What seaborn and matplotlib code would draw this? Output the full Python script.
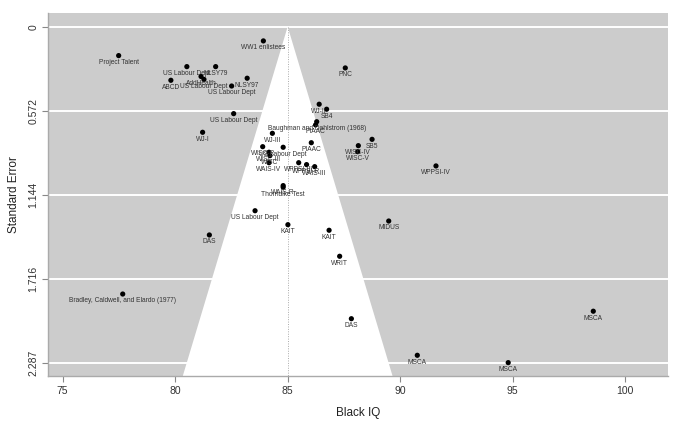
import numpy as np
import pandas as pd
import matplotlib
matplotlib.use("Agg")
import matplotlib.pyplot as plt
import seaborn as sns

studies = [
    "WW1 enlistees", "Project Talent", "US Labour Dept", "NLSY79", "AddHealth",
    "US Labour Dept", "ABCD", "NLSY97", "US Labour Dept", "US Labour Dept",
    "WJ-I", "PNC", "WJ-II", "SB4", "Baughman and Dahlstrom (1968)",
    "PIAAC", "WJ-III", "PIAAC", "SB5", "WISC-IV",
    "WISC-V", "WISC-R", "US Labour Dept", "WISC-III", "WISC",
    "WAIS-IV", "WPPSI-III", "WPPSI-R", "WAIS-III", "WPPSI-IV",
    "WAIS-R", "Thorndike Test", "US Labour Dept", "KAIT", "KAIT",
    "WRIT", "DAS", "MIDUS", "DAS", "MSCA",
    "MSCA", "MSCA", "Bradley, Caldwell, and Elardo (1977)",
]
black_iq = [
    83.92, 77.49, 80.52, 81.80, 81.15,
    81.28, 79.81, 83.20, 82.51, 82.60,
    81.22, 87.56, 86.40, 86.73, 86.29,
    86.24, 84.32, 86.05, 88.75, 88.14,
    88.11, 83.89, 84.80, 84.17, 84.21,
    84.17, 85.49, 85.84, 86.20, 91.59,
    84.80, 84.80, 83.55, 85.01, 86.84,
    87.31, 81.52, 89.49, 87.83, 90.76,
    94.80, 98.58, 77.67,
]
std_error = [
    0.097, 0.197, 0.272, 0.272, 0.339,
    0.359, 0.365, 0.351, 0.404, 0.592,
    0.719, 0.281, 0.528, 0.562, 0.647,
    0.669, 0.726, 0.790, 0.767, 0.810,
    0.851, 0.817, 0.821, 0.855, 0.878,
    0.926, 0.926, 0.939, 0.953, 0.948,
    1.082, 1.093, 1.253, 1.348, 1.386,
    1.563, 1.418, 1.323, 1.988, 2.237,
    2.287, 1.937, 1.820,
]
pooled_mean = 85
y_ticks = [0, 0.572, 1.144, 1.716, 2.287]
x_ticks = [75, 80, 85, 90, 95, 100]

df = pd.DataFrame({"study": studies, "iq": black_iq, "se": std_error})

sns.set_style("white", {"axes.facecolor": "#cccccc"})
plt.rcParams["font.family"] = ["Liberation Sans", "DejaVu Sans"]

fig = plt.figure(figsize=(6.8, 4.23), dpi=100)
ax = fig.add_axes([48 / 680, 1 - 376 / 423, 620 / 680, 363 / 423])

x_lo, x_hi = 74.35, 101.9
y_top, y_bot = -0.093, 2.378

# grid lines
for t in y_ticks:
    ax.axhline(t, color="white", lw=1.4, zorder=0)

# funnel (95% limits)
ax.fill([pooled_mean, pooled_mean - 1.96 * y_bot, pooled_mean + 1.96 * y_bot],
        [0, y_bot, y_bot], color="white", zorder=1, lw=0)
ax.plot([pooled_mean, pooled_mean], [0, y_bot], color="#aaaaaa", lw=0.7,
        ls=(0, (1, 1.5)), zorder=2)

sns.scatterplot(data=df, x="iq", y="se", ax=ax, color="black", s=14,
                edgecolor="none", zorder=3, legend=False)

for _, r in df.iterrows():
    ax.annotate(r["study"], (r["iq"], r["se"]), xytext=(0, -2.5),
                textcoords="offset points", ha="center", va="top",
                fontsize=4.8, color="#333333", zorder=4)

ax.set_xlim(x_lo, x_hi)
ax.set_ylim(y_bot, y_top)
ax.set_xticks(x_ticks)
ax.set_yticks(y_ticks)
ax.set_yticklabels(["0", "0.572", "1.144", "1.716", "2.287"], rotation=90, va="center")
ax.tick_params(axis="both", length=4, width=0.8, color="#888888",
               labelsize=7.5, labelcolor="#333333", pad=3, left=True, bottom=True)

for side in ["top", "right"]:
    ax.spines[side].set_visible(False)
for side in ["left", "bottom"]:
    ax.spines[side].set_color("#aaaaaa")
    ax.spines[side].set_linewidth(1.0)

ax.set_xlabel("Black IQ", fontsize=8.5, color="#222222", labelpad=8)
ax.set_ylabel("Standard Error", fontsize=8.5, color="#222222", labelpad=6)

fig.savefig("out.png", dpi=100)
